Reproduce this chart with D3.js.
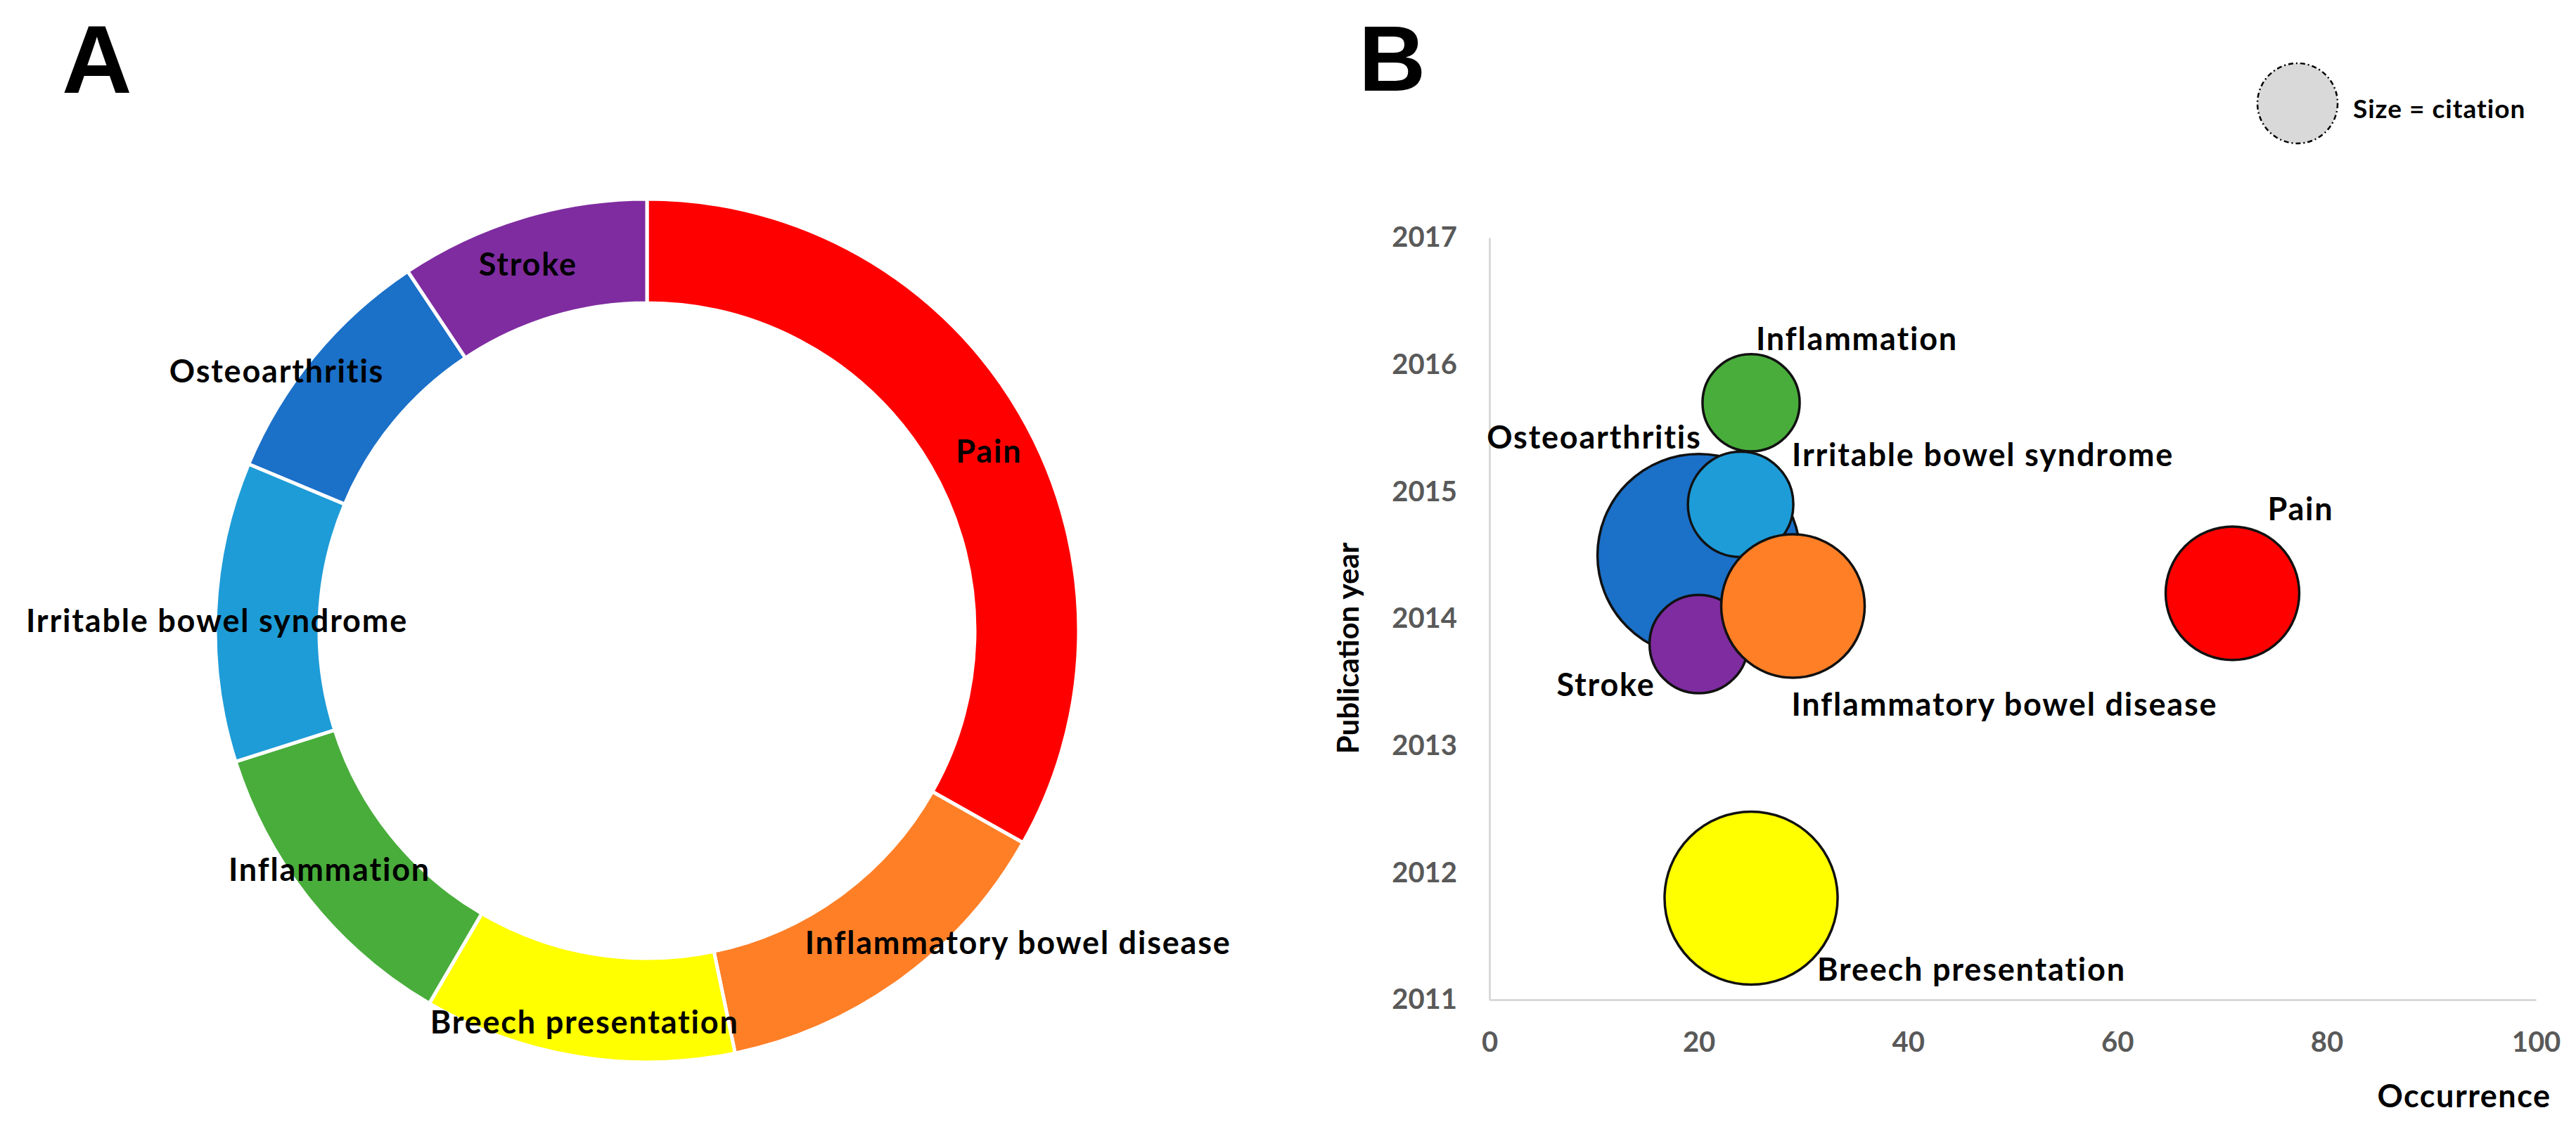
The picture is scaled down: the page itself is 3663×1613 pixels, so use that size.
<!DOCTYPE html>
<html>
<head>
<meta charset="utf-8">
<script src="https://cdn.jsdelivr.net/npm/d3@7"></script>
<style>
  html, body { margin: 0; padding: 0; background: #fff; }
  text { font-family: Lato, "Open Sans", sans-serif; font-weight: bold; }
  .panel-letter { font-family: "Liberation Sans", Arial, sans-serif; font-weight: bold; }
  .lbl { letter-spacing: 1.8px; }
</style>
</head>
<body>
<div id="vis"></div>
<script>
// topics, in the order the donut runs clockwise from 12 o'clock
var topics = ["Pain", "Inflammatory bowel disease", "Breech presentation", "Inflammation",
              "Irritable bowel syndrome", "Osteoarthritis", "Stroke"];
var occurrence = [71, 29, 25, 25, 24, 20, 20];
var pubYear = [2014.2, 2014.1, 2011.8, 2015.7, 2014.9, 2014.5, 2013.8];
var citations = [435, 502, 730, 230, 271, 1000, 236];
var colors = ["#ff0000", "#ff7f27", "#ffff00", "#49ad3b", "#1e9cd7", "#1b70c8", "#7f2ca0"];

var xTicks = [0, 20, 40, 60, 80, 100];
var yTicks = [2011, 2012, 2013, 2014, 2015, 2016, 2017];

// order in which the bubbles are stacked (back to front)
var drawOrder = [5, 3, 4, 6, 1, 0, 2];

var width = 3663, height = 1613;

var svg = d3.select("#vis").append("svg")
    .attr("width", width)
    .attr("height", height);

svg.append("rect").attr("width", width).attr("height", height).attr("fill", "#fff");

var data = topics.map(function(t, i) {
    return { topic: t, occ: occurrence[i], year: pubYear[i], cit: citations[i], color: colors[i] };
});

// ---------- panel A : donut ----------
var donut = { cx: 920, cy: 897, outer: 614, inner: 466 };

// label nudges from the arc centroid
var donutNudge = {
    "Pain": [20, 18],
    "Inflammatory bowel disease": [209, 8],
    "Breech presentation": [-2, 24],
    "Inflammation": [-30, 3],
    "Irritable bowel syndrome": [-72, 10],
    "Osteoarthritis": [-110, -25],
    "Stroke": [-13, -4]
};

var pie = d3.pie().sort(null).value(function(d) { return d.occ; });
var arc = d3.arc().innerRadius(donut.inner).outerRadius(donut.outer);

var gA = svg.append("g")
    .attr("transform", "translate(" + donut.cx + "," + donut.cy + ")");

var arcs = pie(data);

gA.selectAll("path.slice")
    .data(arcs)
    .enter().append("path")
    .attr("class", "slice")
    .attr("d", arc)
    .attr("fill", function(d) { return d.data.color; })
    .attr("stroke", "#fff")
    .attr("stroke-width", 5);

gA.selectAll("text.slice-label")
    .data(arcs)
    .enter().append("text")
    .attr("class", "slice-label lbl")
    .attr("x", function(d) { return arc.centroid(d)[0] + donutNudge[d.data.topic][0]; })
    .attr("y", function(d) { return arc.centroid(d)[1] + donutNudge[d.data.topic][1]; })
    .attr("dy", "0.35em")
    .attr("text-anchor", "middle")
    .attr("font-size", 45)
    .attr("fill", "#000")
    .text(function(d) { return d.data.topic; });

svg.append("text")
    .attr("class", "panel-letter")
    .attr("x", 88)
    .attr("y", 132)
    .attr("font-size", 138)
    .text("A");

// ---------- panel B : bubble chart ----------
var x = d3.scaleLinear().domain([0, 100]).range([2118, 3606]);
var y = d3.scaleLinear().domain([2011, 2017]).range([1422, 338]);
var r = d3.scaleSqrt().domain([0, 1000]).range([0, 144]);

var gB = svg.append("g");

var xAxis = d3.axisBottom(x).tickValues(xTicks).tickSize(0).tickPadding(46);
var yAxis = d3.axisLeft(y).tickValues(yTicks).tickSize(0).tickPadding(46)
    .tickFormat(d3.format("d"));

var gx = gB.append("g")
    .attr("transform", "translate(0," + y(2011) + ")")
    .call(xAxis);
var gy = gB.append("g")
    .attr("transform", "translate(" + x(0) + ",0)")
    .call(yAxis);

[gx, gy].forEach(function(g) {
    g.select(".domain").attr("stroke", "#d9d9d9").attr("stroke-width", 3);
    g.selectAll(".tick text").attr("font-size", 40).attr("font-family", "Lato, sans-serif")
        .attr("font-weight", "bold").attr("fill", "#595959");
});

var bubbles = drawOrder.map(function(i) { return data[i]; });

gB.selectAll("circle.bubble")
    .data(bubbles)
    .enter().append("circle")
    .attr("class", "bubble")
    .attr("cx", function(d) { return x(d.occ); })
    .attr("cy", function(d) { return y(d.year); })
    .attr("r", function(d) { return r(d.cit); })
    .attr("fill", function(d) { return d.color; })
    .attr("stroke", "#111")
    .attr("stroke-width", 3.5);

// bubble label offsets from the bubble centre
var bubbleLabel = {
    "Pain": [50, -104, "start"],
    "Inflammatory bowel disease": [-2, 156, "start"],
    "Breech presentation": [94, 118, "start"],
    "Inflammation": [7, -75, "start"],
    "Irritable bowel syndrome": [73, -54, "start"],
    "Osteoarthritis": [4, -152, "end"],
    "Stroke": [-62, 74, "end"]
};

gB.selectAll("text.bubble-label")
    .data(data)
    .enter().append("text")
    .attr("class", "bubble-label lbl")
    .attr("x", function(d) { return x(d.occ) + bubbleLabel[d.topic][0]; })
    .attr("y", function(d) { return y(d.year) + bubbleLabel[d.topic][1]; })
    .attr("text-anchor", function(d) { return bubbleLabel[d.topic][2]; })
    .attr("font-size", 45)
    .attr("fill", "#000")
    .text(function(d) { return d.topic; });

// axis titles
gB.append("text")
    .attr("x", 3504)
    .attr("y", 1575)
    .attr("text-anchor", "middle")
    .attr("font-size", 45)
    .style("letter-spacing", "1.5px")
    .text("Occurrence");

gB.append("text")
    .attr("transform", "translate(1932,922) rotate(-90)")
    .attr("text-anchor", "middle")
    .attr("font-size", 42)
    .text("Publication year");

// legend
gB.append("ellipse")
    .attr("cx", 3267)
    .attr("cy", 147)
    .attr("rx", 57)
    .attr("ry", 57)
    .attr("fill", "#d9d9d9")
    .attr("stroke", "#000")
    .attr("stroke-width", 2.5)
    .attr("stroke-dasharray", "7,4,2,4");

gB.append("text")
    .attr("x", 3346)
    .attr("y", 168)
    .attr("font-size", 37)
    .style("letter-spacing", "1px")
    .text("Size = citation");

svg.append("text")
    .attr("class", "panel-letter")
    .attr("x", 1932)
    .attr("y", 129)
    .attr("font-size", 132)
    .text("B");
</script>
</body>
</html>
